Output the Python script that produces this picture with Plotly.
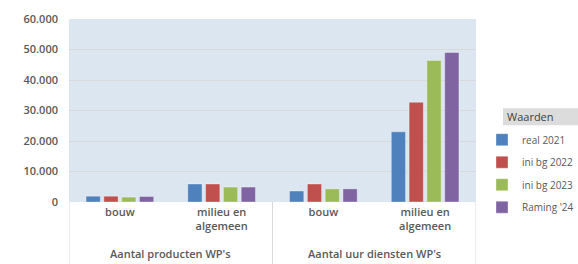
import plotly.graph_objects as go

groups = ["Aantal producten WP's", "Aantal uur diensten WP's"]
cats = ["bouw", "milieu en<br>algemeen", "bouw", "milieu en<br>algemeen"]
cat_group = [0, 0, 1, 1]
series_names = ["real 2021", "ini bg 2022", "ini bg 2023", "Raming '24"]
real_2021 = [1900, 5900, 3600, 23000]
ini_bg_2022 = [1900, 5900, 5900, 32700]
ini_bg_2023 = [1600, 4900, 4300, 46400]
raming_24 = [1800, 4900, 4300, 49000]
colors = ["#4F81BD", "#C0504D", "#9BBB59", "#8064A2"]
y_ticks = [0, 10000, 20000, 30000, 40000, 50000, 60000]

W, H = 578, 264
L, R, T, B = 69, 476, 18.5, 202
FONT = "Open Sans"
GRAY = "#595959"

keys = [f"{groups[g]}|{c}" for g, c in zip(cat_group, cats)]

fig = go.Figure()
for name, vals, col in zip(series_names, [real_2021, ini_bg_2022, ini_bg_2023, raming_24], colors):
    fig.add_trace(go.Bar(
        x=keys, y=vals, name=name, legendgroup=name,
        marker=dict(color=col, line=dict(color="rgba(255,255,255,0.35)", width=1)),
    ))

def px(x):
    return (x - L) / (R - L)

def py(y):
    return (B - y) / (B - T)

# legend title background
fig.add_shape(type="rect", xref="paper", yref="paper",
              x0=px(503), x1=px(578), y0=py(125), y1=py(108),
              fillcolor="#DCDCDC", line=dict(width=0), layer="below")
fig.add_annotation(text="Waarden", xref="paper", yref="paper",
                   x=px(505), y=py(116.5), xanchor="left", yanchor="middle",
                   showarrow=False, font=dict(family=FONT, size=11, color="#404040"))

# group dividers and group labels
for gi, g in enumerate(groups):
    idx = [i for i, cg in enumerate(cat_group) if cg == gi]
    lo, hi = min(idx) - 0.5, max(idx) + 0.5
    fig.add_annotation(text=g, xref="x", yref="paper", x=(lo + hi) / 2, y=py(254),
                       xanchor="center", yanchor="middle", showarrow=False,
                       font=dict(family=FONT, size=11, color=GRAY, weight=600))
bounds = sorted({-0.5, len(cats) - 0.5} | {i + 0.5 for i in range(len(cats) - 1) if cat_group[i] != cat_group[i + 1]})
for bx in bounds:
    fig.add_shape(type="line", xref="x", yref="paper", x0=bx, x1=bx,
                  y0=0, y1=py(266), line=dict(color="#D9D9D9", width=1))

fig.update_layout(
    width=W, height=H,
    margin=dict(l=L, r=W - R, t=T, b=H - B, autoexpand=False),
    paper_bgcolor="white", plot_bgcolor="#DCE6F1",
    separators=",.",
    font=dict(family=FONT, size=11, color=GRAY),
    barmode="group", bargap=0.3, bargroupgap=0.2,
    showlegend=True,
    legend=dict(x=px(482), y=py(125), xanchor="left", yanchor="top",
                font=dict(size=10, color=GRAY, family=FONT), tracegroupgap=3.5,
                itemwidth=30, bgcolor="rgba(0,0,0,0)"),
    yaxis=dict(range=[0, 60000], tickvals=y_ticks, tickformat=",",
               showgrid=True, gridcolor="#D9D9D9", gridwidth=1,
               zeroline=False, showline=False, ticks="",
               tickfont=dict(size=11, color=GRAY, family=FONT, weight=600),
               ticklabelstandoff=10),
    xaxis=dict(type="category", tickvals=keys, ticktext=cats,
               range=[-0.5, len(cats) - 0.5],
               showline=False, ticks="", showgrid=False,
               tickfont=dict(size=11, color=GRAY, family=FONT, weight=600),
               ticklabelstandoff=2),
)

fig.write_html("out.html", config={"displayModeBar": False},
               post_script="document.body.style.margin='0';")
